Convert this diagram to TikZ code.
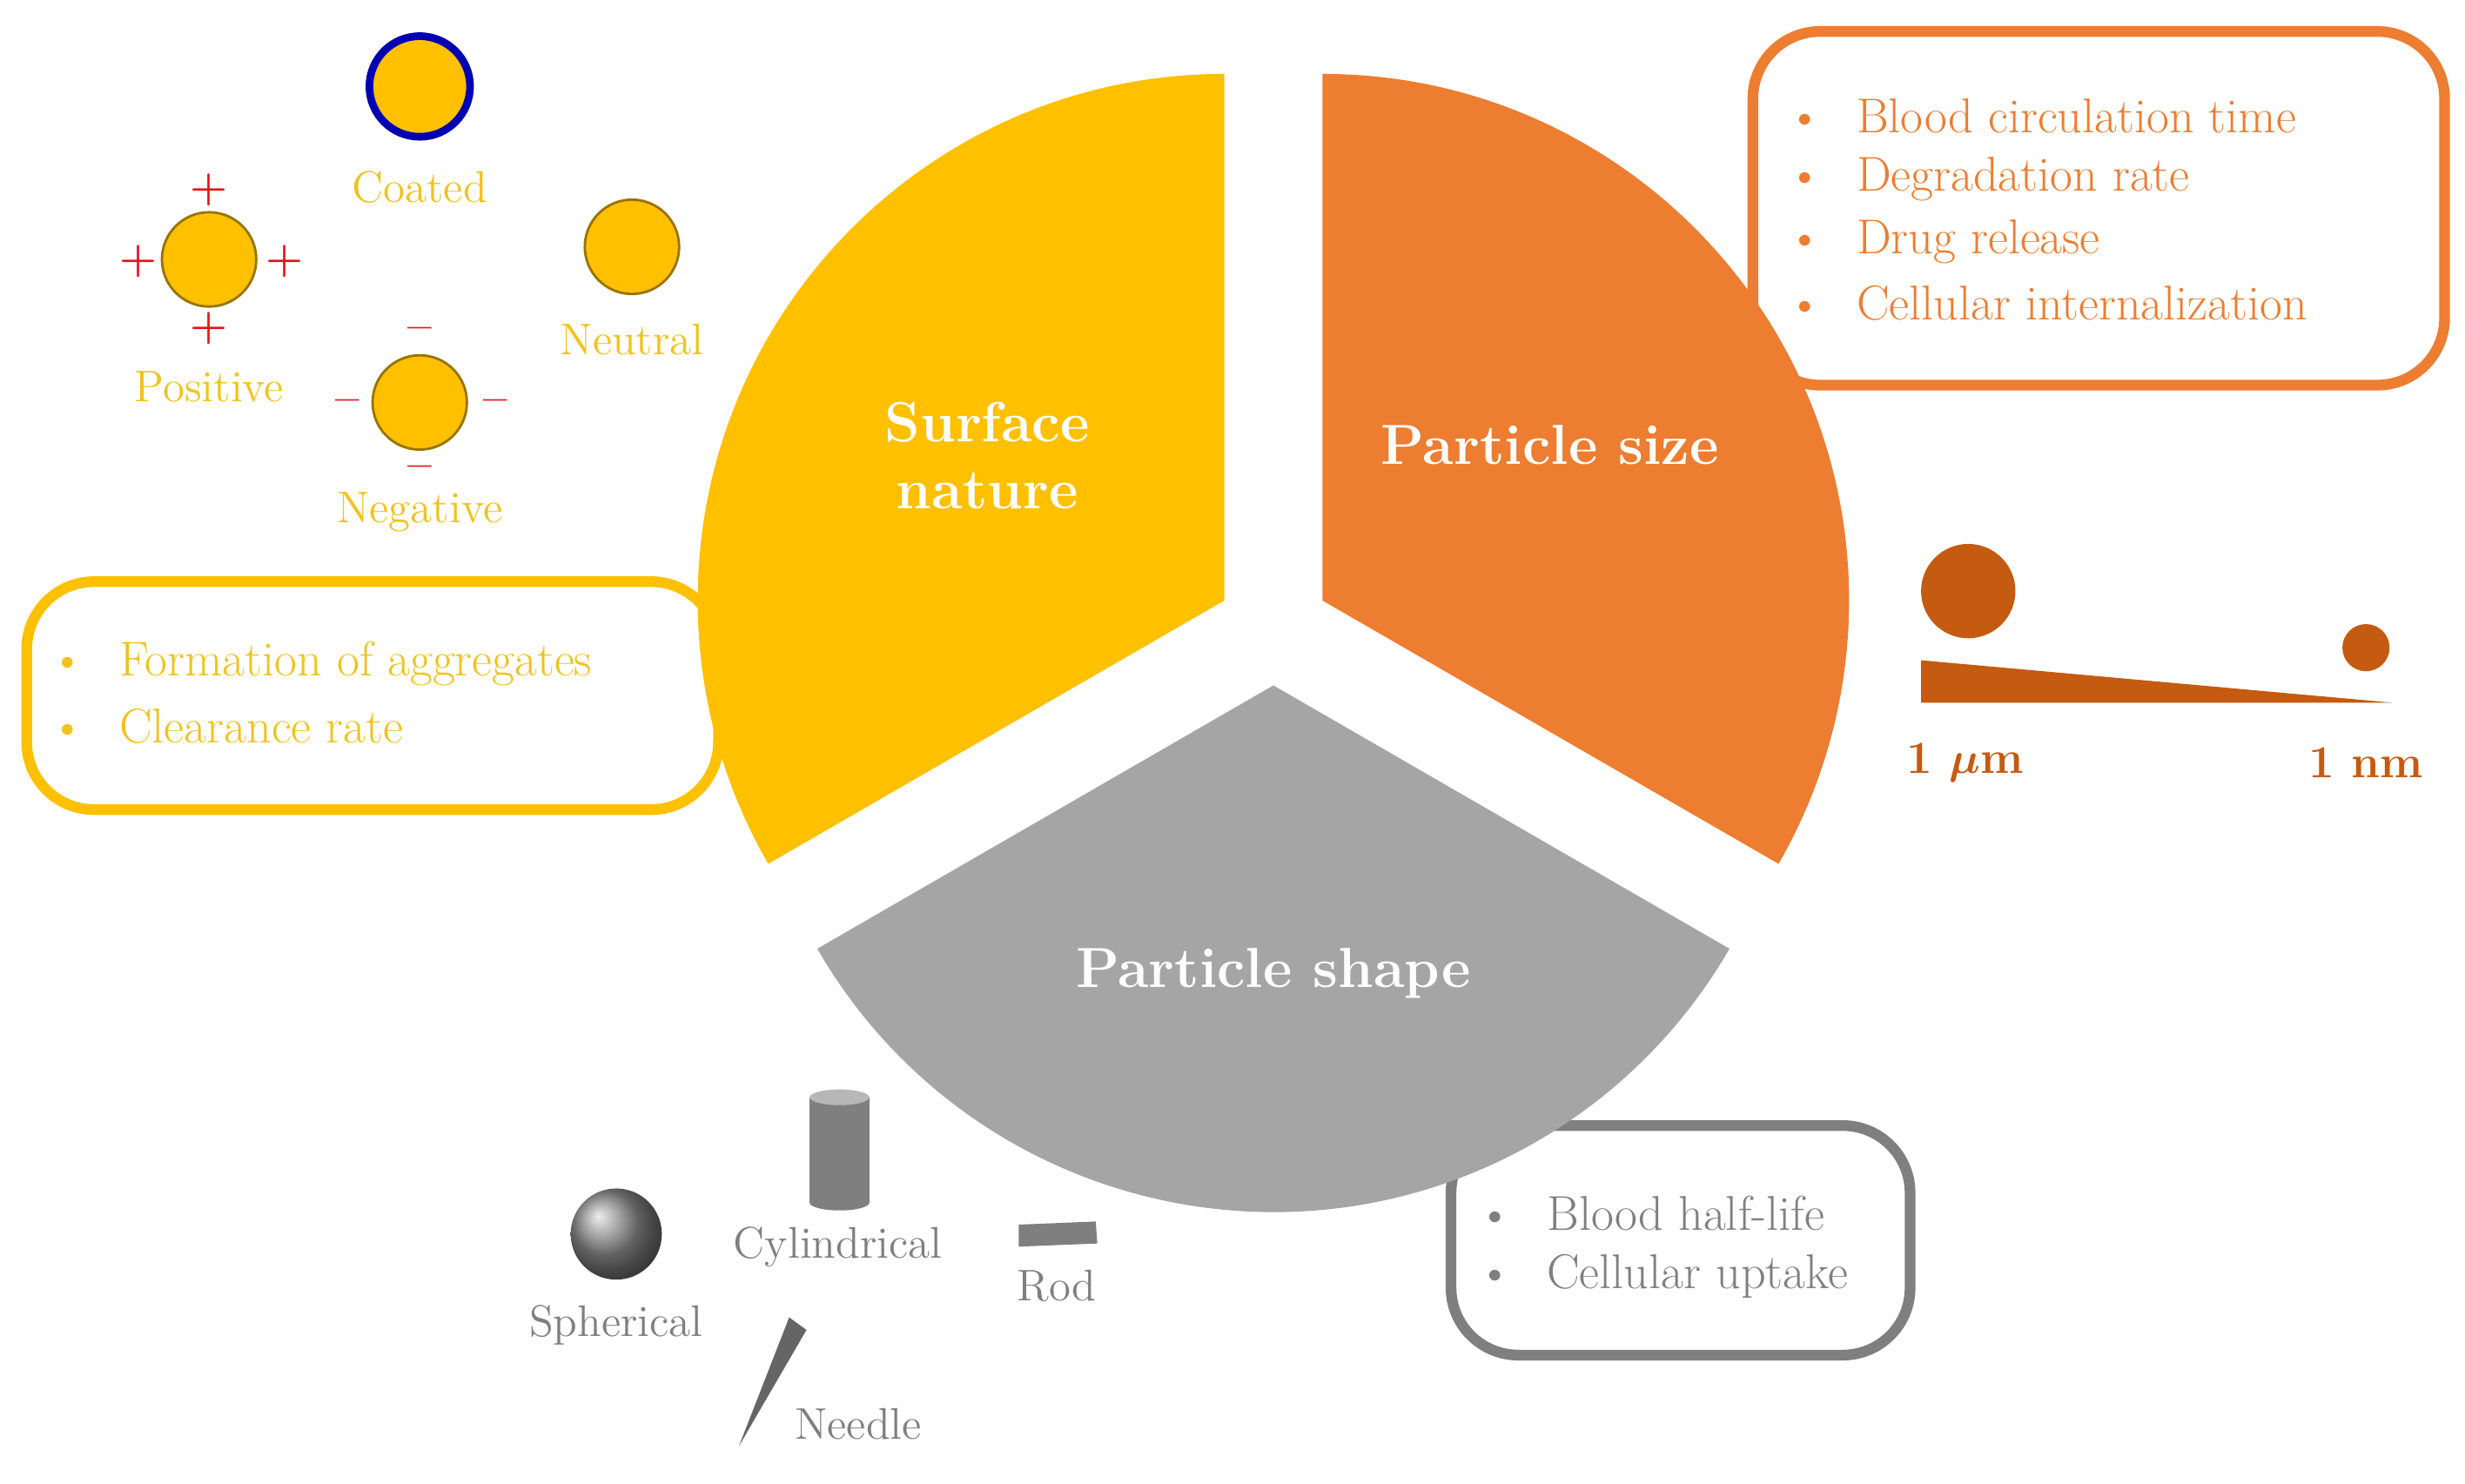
\documentclass[tikz,border=0pt]{standalone}
\definecolor{yel}{HTML}{FFC000}
\definecolor{yeltxt}{HTML}{F2C21B}
\definecolor{org}{HTML}{ED7D31}
\definecolor{orgd}{HTML}{C55A11}
\definecolor{gry}{HTML}{A5A5A5}
\definecolor{gryd}{HTML}{7F7F7F}
\definecolor{chg}{HTML}{E8121E}
\begin{document}
\begin{tikzpicture}[x=0.018061cm,y=-0.018061cm,
  lbl/.style={font=\fontsize{14.5}{16}\selectfont},
  btxt/.style={font=\fontsize{16}{19}\selectfont,anchor=west},
  sect/.style={font=\bfseries\fontsize{18.5}{22}\selectfont,text=white,align=center},
  box/.style={rounded corners=22,line width=3.5},
  ball/.style={circle,draw=yel!60!black,line width=0.8,fill=yel,minimum size=60*0.018061cm,inner sep=0},
  chgs/.style={text=chg,font=\bfseries\fontsize{14}{14}\selectfont}]
\useasboundingbox (0,0) rectangle (1568,944);
% boxes
\draw[box,draw=yel] (17,370) rectangle (457,515);
\draw[box,draw=org] (1115,20) rectangle (1555,245);
\draw[box,draw=gryd] (923,716) rectangle (1215,862);
% sectors (y flipped: angles negated)
\fill[yel] (778.8,382) -- ++(-90:335) arc[start angle=-90,end angle=-210,radius=335] -- cycle;
\fill[org] (841.2,382) -- ++(-90:335) arc[start angle=-90,end angle=30,radius=335] -- cycle;
\fill[gry] (810,436) -- ++(-210:335) arc[start angle=-210,end angle=-330,radius=335] -- cycle;
\node[sect] (sn) at (628,290) {Surface\\nature};
\node[sect] (ps) at (986,283) {Particle size};
\node[sect] (psh) at (810,619) {Particle shape};
% box texts
\foreach \y/\t [count=\i] in {422/Formation of aggregates,462/Clearance rate}
  \node[btxt,text=yeltxt] (y\i) at (25,\y) {\textbullet\hspace{0.7em}\t};
\foreach \y/\t [count=\i] in {74/Blood circulation time,114/Degradation rate,154/Drug release,193/Cellular internalization}
  \node[btxt,text=org] (o\i) at (1130,\y) {\textbullet\hspace{0.7em}\t};
\foreach \y/\t [count=\i] in {772/Blood half-life,812/Cellular uptake}
  \node[btxt,text=gryd] (g\i) at (933,\y) {\textbullet\hspace{0.7em}\t};
% surface particles
\node[ball,draw=blue!70!black,line width=2.5,minimum size=64*0.018061cm] (coat) at (267,55) {};
\node[lbl,text=yeltxt] (coatl) at (267,119) {Coated};
\node[ball] (pos) at (133,165) {};
\foreach \x/\y [count=\i] in {133/121,88/166,181/166,133/209} \node[chgs] (p\i) at (\x,\y) {+};
\node[lbl,text=yeltxt] (posl) at (133,246) {Positive};
\node[ball] (neu) at (402,157) {};
\node[lbl,text=yeltxt] (neul) at (402,216) {Neutral};
\node[ball] (neg) at (267,256) {};
\foreach \x/\y [count=\i] in {267/212,221/258,315/258,267/300} \node[chgs] (m\i) at (\x,\y) {\textendash};
\node[lbl,text=yeltxt] (negl) at (267,326) {Negative};
% size
\fill[orgd] (1252,376) circle (30);
\fill[orgd] (1505,412) circle (15);
\fill[orgd] (1222,420) -- (1222,447) -- (1522,447) -- cycle;
\node[font=\bfseries\boldmath\fontsize{15}{15}\selectfont,text=orgd] (um) at (1250,485) {1 $\mu$m};
\node[font=\bfseries\fontsize{15}{15}\selectfont,text=orgd] (nm) at (1505,485) {1 nm};
% shapes
\shade[ball color=gryd!90] (392,785) circle (29);
\fill[gryd] (515,698) rectangle (553,765);
\fill[gryd] (534,765) ellipse (19 and 5);
\fill[gry!80] (534,698) ellipse (19 and 5);
\fill[gryd] (648,779) -- (697,777) -- (698,791) -- (648,793) -- cycle;
\fill[gryd!80!black] (502,838) -- (513,846) -- (470,920) -- cycle;
\node[lbl,text=gryd] (sph) at (392,843) {Spherical};
\node[lbl,text=gryd] (cyl) at (533,793) {Cylindrical};
\node[lbl,text=gryd] (rod) at (672,818) {Rod};
\node[lbl,text=gryd] (ndl) at (546,906) {Needle};
\end{tikzpicture}
\end{document}
